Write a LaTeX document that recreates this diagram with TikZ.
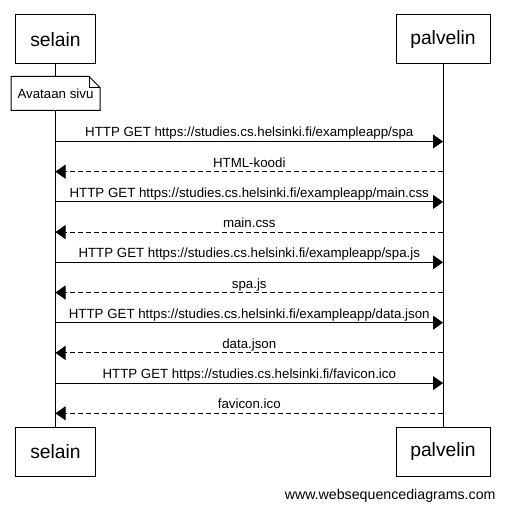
\documentclass[tikz,border=0pt]{standalone}
\usepackage{fontspec}
\setmainfont{Liberation Sans}
\usetikzlibrary{arrows.meta, positioning}

\begin{document}
\begin{tikzpicture}[x=1pt, y=-1pt, line width=1pt]
\tikzstyle{every node}+=[inner sep=0pt]
\tikzstyle{actor}=[draw, fill=white, minimum height=49pt, font=\fontsize{19.3}{22}\selectfont]
\tikzstyle{lbl}=[anchor=base, yshift=4.5pt, font=\fontsize{13.3}{15}\selectfont]
\tikzstyle{req}=[-{Triangle[length=10pt, width=14pt]}]
\tikzstyle{resp}=[req, dash pattern=on 5pt off 3pt]
\useasboundingbox (0,0) rectangle (505,510);
\node [actor, minimum width=80pt] (s0) at (55.5,39.5) {selain};
\node [actor, minimum width=94pt] (p0) at (443,39.5) {palvelin};
\node [actor, minimum width=80pt] (s1) at (55.5,451.5) {selain};
\node [actor, minimum width=94pt] (p1) at (443,451.5) {palvelin};
\draw (s0) -- (s1);
\draw (p0) -- (p1);
\node [fill=white, minimum width=88pt, minimum height=33pt, font=\fontsize{13.3}{15}\selectfont] (note) at (55.5,93.5) {Avataan sivu};
\draw (note.south west) -- (note.north west) -- ([xshift=-11pt]note.north east) -- ([yshift=-11pt]note.north east) -- (note.south east) -- cycle;
\draw [line width=0.6pt] ([xshift=-11pt]note.north east) |- ([yshift=-11pt]note.north east);
\coordinate (r1) at (0,141.5);
\coordinate (r2) at (0,171.7);
\coordinate (r3) at (0,201.9);
\coordinate (r4) at (0,232.1);
\coordinate (r5) at (0,262.3);
\coordinate (r6) at (0,292.5);
\coordinate (r7) at (0,322.7);
\coordinate (r8) at (0,352.9);
\coordinate (r9) at (0,383.1);
\coordinate (r10) at (0,413.3);
\draw [req] (s0 |- r1) -- node [lbl] {HTTP GET https://studies.cs.helsinki.fi/exampleapp/spa} (p0 |- r1);
\draw [resp] (p0 |- r2) -- node [lbl] {HTML-koodi} (s0 |- r2);
\draw [req] (s0 |- r3) -- node [lbl] {HTTP GET https://studies.cs.helsinki.fi/exampleapp/main.css} (p0 |- r3);
\draw [resp] (p0 |- r4) -- node [lbl] {main.css} (s0 |- r4);
\draw [req] (s0 |- r5) -- node [lbl] {HTTP GET https://studies.cs.helsinki.fi/exampleapp/spa.js} (p0 |- r5);
\draw [resp] (p0 |- r6) -- node [lbl] {spa.js} (s0 |- r6);
\draw [req] (s0 |- r7) -- node [lbl] {HTTP GET https://studies.cs.helsinki.fi/exampleapp/data.json} (p0 |- r7);
\draw [resp] (p0 |- r8) -- node [lbl] {data.json} (s0 |- r8);
\draw [req] (s0 |- r9) -- node [lbl] {HTTP GET https://studies.cs.helsinki.fi/favicon.ico} (p0 |- r9);
\draw [resp] (p0 |- r10) -- node [lbl] {favicon.ico} (s0 |- r10);
\node [anchor=east, font=\fontsize{14.2}{16}\selectfont] (site) at (496,496) {www.websequencediagrams.com};
\end{tikzpicture}
\end{document}
